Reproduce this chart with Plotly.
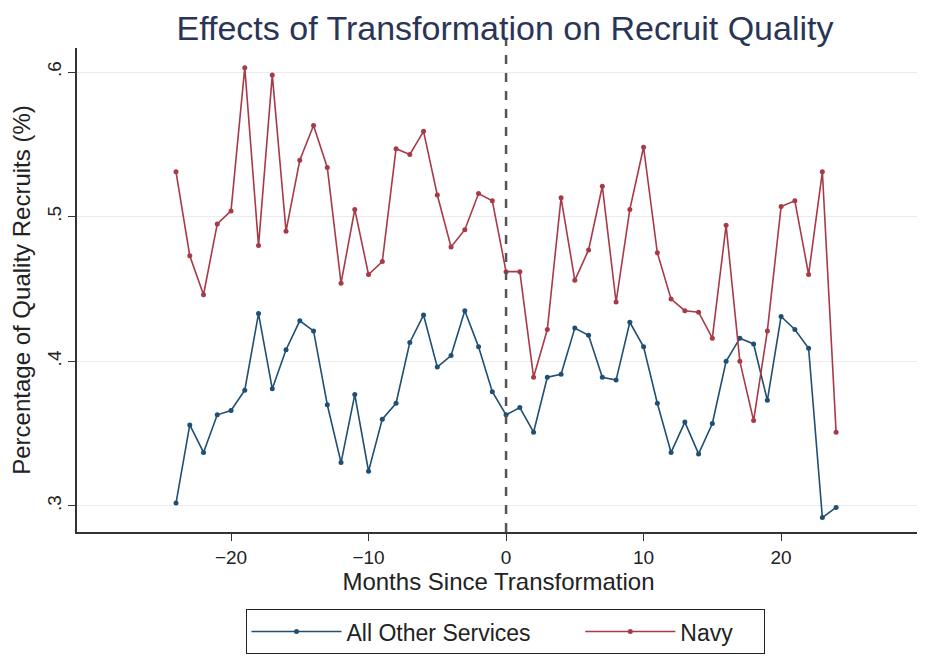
import plotly.graph_objects as go

months = list(range(-24, 25))
navy = [0.531, 0.473, 0.446, 0.495, 0.504, 0.603, 0.480, 0.598, 0.490, 0.539,
        0.563, 0.534, 0.454, 0.505, 0.460, 0.469, 0.547, 0.543, 0.559, 0.515,
        0.479, 0.491, 0.516, 0.511, 0.462, 0.462, 0.389, 0.422, 0.513, 0.456,
        0.477, 0.521, 0.441, 0.505, 0.548, 0.475, 0.443, 0.435, 0.434, 0.416,
        0.494, 0.400, 0.359, 0.421, 0.507, 0.511, 0.460, 0.531, 0.351]
others = [0.302, 0.356, 0.337, 0.363, 0.366, 0.380, 0.433, 0.381, 0.408, 0.428,
          0.421, 0.370, 0.330, 0.377, 0.324, 0.360, 0.371, 0.413, 0.432, 0.396,
          0.404, 0.435, 0.410, 0.379, 0.363, 0.368, 0.351, 0.389, 0.391, 0.423,
          0.418, 0.389, 0.387, 0.427, 0.410, 0.371, 0.337, 0.358, 0.336, 0.357,
          0.400, 0.416, 0.412, 0.373, 0.431, 0.422, 0.409, 0.292, 0.299]
xticks = [-20, -10, 0, 10, 20]
yticks = [0.3, 0.4, 0.5, 0.6]
ytick_labels = [".3", ".4", ".5", ".6"]
series_names = ["All Other Services", "Navy"]

BLUE = "#1f4f74"
RED = "#a83a48"
FONT = "Liberation Sans, Arial, sans-serif"
NB = "\u00a0"

fig = go.Figure()
fig.add_trace(go.Scatter(x=months, y=others, mode="lines+markers", name=series_names[0] + NB * 7,
                         line=dict(color=BLUE, width=1.6), marker=dict(color=BLUE, size=5)))
fig.add_trace(go.Scatter(x=months, y=navy, mode="lines+markers", name=series_names[1] + NB * 4,
                         line=dict(color=RED, width=1.6), marker=dict(color=RED, size=5)))

fig.add_shape(type="line", x0=0, x1=0, xref="x", y0=0, y1=1.02, yref="paper",
              line=dict(color="#555555", width=2.5, dash="dash"))

fig.update_layout(
    width=917, height=650,
    margin=dict(l=69, r=5, t=40, b=126, autoexpand=False),
    paper_bgcolor="white", plot_bgcolor="white",
    font=dict(family=FONT, color="#222222", size=19),
    title=dict(text="Effects of Transformation on Recruit Quality", x=0.542, xanchor="center",
               y=0.969, yanchor="middle", font=dict(size=34, color="#2a3555", family=FONT)),
    xaxis=dict(range=[-31.2, 30.1], tickvals=xticks, ticks="outside", ticklen=7,
               tickcolor="#333333", showline=True, linecolor="#333333", linewidth=1.5,
               showgrid=False, zeroline=False, automargin=False,
               title=dict(text="Months Since Transformation", font=dict(size=24), standoff=2),
               tickfont=dict(size=19)),
    yaxis=dict(range=[0.282, 0.6166], tickvals=yticks, ticktext=ytick_labels, tickangle=-90,
               ticks="outside", ticklen=7, tickcolor="#333333", showline=True,
               linecolor="#333333", linewidth=1.5, showgrid=True, gridcolor="#ebebeb",
               gridwidth=1, zeroline=False, automargin=False,
               title=dict(text="Percentage of Quality Recruits (%)", font=dict(size=24), standoff=10),
               tickfont=dict(size=19)),
    legend=dict(orientation="h", xref="container", yref="container", x=0.542, xanchor="center",
                y=0.006, yanchor="bottom", itemwidth=90,
                bordercolor="#222222", borderwidth=1, font=dict(size=23),
                bgcolor="white"),
    showlegend=True,
)

fig.write_html("out.html")
